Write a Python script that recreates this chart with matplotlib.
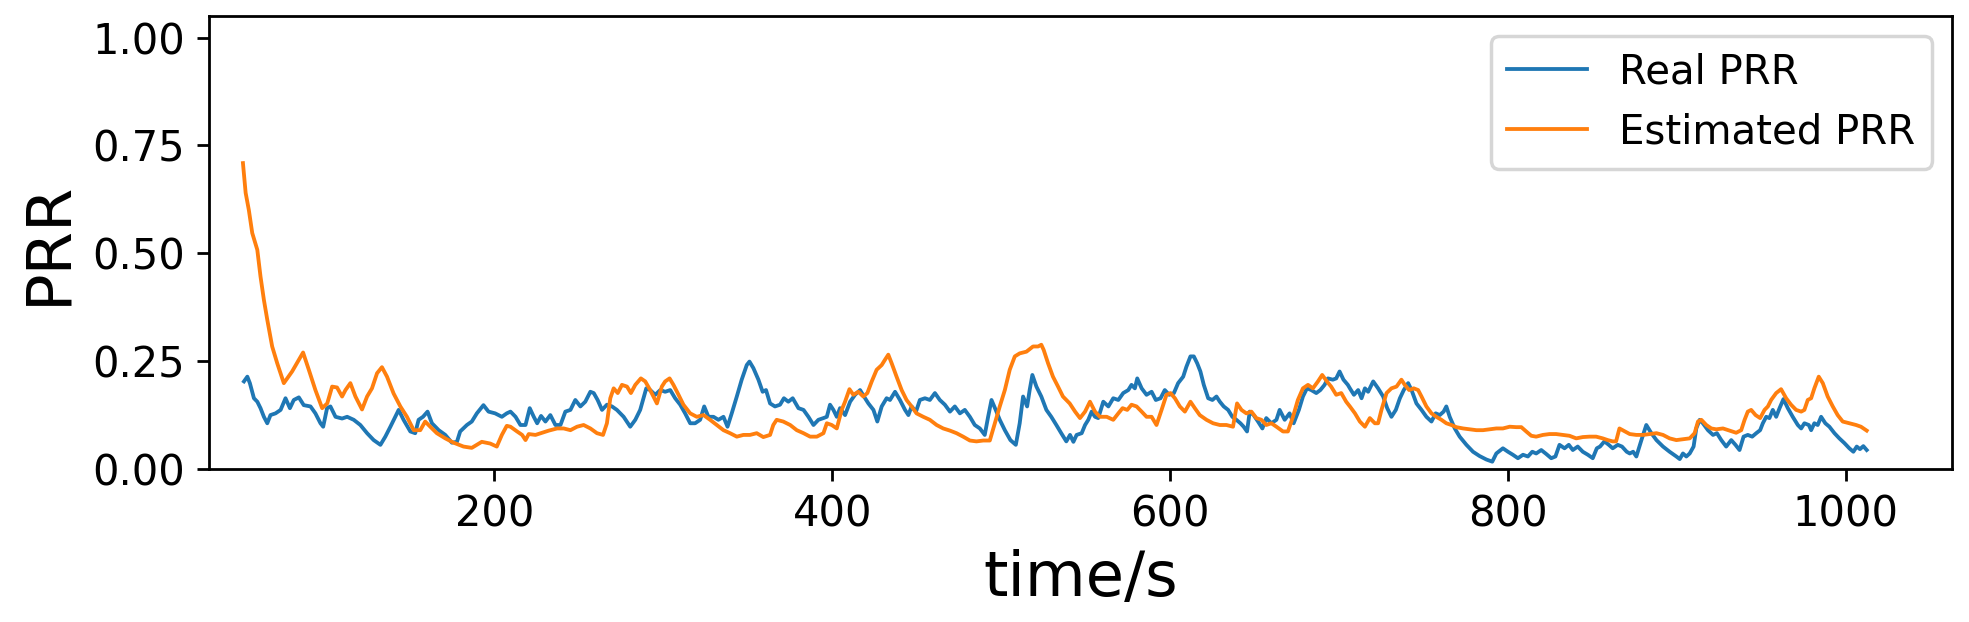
import matplotlib
matplotlib.use("Agg")
import matplotlib.pyplot as plt

# ---- data ----
time_real = [51.7, 53.7, 55.2, 57.6, 59.6, 61.5, 63.5, 65.5, 67.4, 70.4, 73.4, 76.3, 78.9, 81.2, 84.2, 87.1, 91.1, 94.0, 97.0, 98.6,
             100.9, 102.9, 105.9, 109.8, 112.8, 116.7, 120.6, 124.6, 128.5, 132.5, 135.4, 138.4, 141.3, 143.3, 146.2, 150.2, 153.1, 155.1, 157.7, 160.4,
             163.0, 167.0, 170.9, 174.8, 177.8, 179.7, 183.7, 186.6, 189.6, 193.5, 196.5, 200.4, 204.4, 207.3,
             209.5, 212.5, 215.4, 218.4, 220.9, 223.3, 225.3, 227.6, 230.2, 233.1, 236.1, 239.1, 242.0, 245.0, 247.9, 250.9, 253.8, 256.8, 258.8, 261.1,
             263.7, 266.6, 269.6, 272.5, 276.5, 280.4, 283.4, 286.3, 289.9, 292.2, 295.2, 298.2, 301.1, 304.1, 307.0, 310.0, 312.9, 315.9, 318.8, 321.8,
             324.2, 326.7, 329.7, 332.6, 335.6, 338.0, 340.5, 343.5, 346.4, 349.4, 351.0, 353.3, 356.3, 358.8, 360.8, 363.2, 366.1, 369.1, 371.4, 374.0, 376.6,
             380.0, 383.0, 385.9, 388.9, 391.8, 394.8, 396.8, 398.7, 400.7, 402.7, 404.6, 407.6, 410.6, 413.5, 416.5, 418.8, 421.4, 424.4, 426.7, 429.3,
             432.2, 434.2, 437.2, 440.1, 443.1, 445.1, 447.0, 449.6, 451.9, 454.9, 457.8, 460.8, 463.7, 466.7, 469.7, 472.6, 475.6, 478.5, 481.5, 484.4,
             487.4, 490.3, 492.3, 494.3, 496.8, 499.2, 502.2, 505.5, 508.7, 511.0, 513.0, 515.4, 516.9, 518.5, 520.9, 523.8, 526.8, 529.7, 532.7, 535.6, 538.6,
             540.8, 542.8, 544.7, 547.7, 549.7, 551.6, 553.6, 555.6, 557.5, 560.5, 563.5, 566.4, 569.4, 572.3, 575.3, 577.2, 579.2, 580.6, 583.2, 586.1,
             589.1, 591.6, 594.4, 596.9, 599.5, 602.3, 604.8, 607.8, 609.7, 612.1, 614.1, 616.1, 618.0, 620.0, 622.6, 625.1, 627.5, 629.5, 631.8, 634.4,
             636.9, 639.3, 641.7, 643.6, 645.6, 647.2, 649.5, 652.1, 654.7, 657.0, 660.0, 663.0, 664.9, 667.9, 670.8, 673.2, 676.3, 678.7, 681.1, 683.6,
             686.6, 689.0, 691.5, 693.5, 696.4, 698.4, 700.4, 702.7, 705.3,
             706.5, 708.9, 711.4, 713.4, 715.4, 717.3, 720.3, 723.2, 726.2, 728.6, 731.1, 733.7, 736.1, 738.4, 741.0, 743.0, 745.9, 748.9, 751.8, 754.8,
             757.3, 759.7, 762.0, 763.6, 765.6, 768.6, 771.5, 775.5, 779.4, 783.3, 787.3, 790.8, 793.2, 797.1, 800.1, 803.0, 806.0, 809.0, 811.9, 814.5,
             816.8, 819.8, 822.7, 825.7, 828.2, 830.6, 833.6, 836.1, 838.5, 841.4, 844.4, 847.4, 850.3, 852.7, 854.6, 857.2, 859.8, 862.1, 865.1, 867.6, 870.4,
             872.2, 874.2, 876.1, 879.1, 882.0, 885.0, 888.0, 891.9, 895.8, 899.8, 901.8, 903.7, 905.7, 907.7, 910.0, 911.6, 913.6, 915.5, 918.5, 921.5,
             923.8, 926.4, 929.3, 932.3, 934.8, 937.2, 939.6, 942.1, 944.7, 947.1, 949.4, 951.0, 953.0, 954.9, 956.9, 958.9, 960.9, 963.2, 965.8, 968.7,
             971.7, 973.7, 975.6, 978.2, 979.6, 981.5, 983.5, 985.5, 988.0, 990.4, 993.4, 996.3, 999.3, 1002.2, 1004.6, 1006.6, 1008.5, 1010.5, 1012.5]
prr_real = [0.203, 0.214, 0.199, 0.164, 0.156, 0.141, 0.121, 0.106, 0.125, 0.129, 0.137, 0.164, 0.141, 0.160, 0.166, 0.148, 0.145, 0.129, 0.106, 0.098,
            0.141, 0.145, 0.121, 0.117, 0.121, 0.114, 0.102, 0.083, 0.067, 0.056, 0.075, 0.098, 0.121, 0.137, 0.114, 0.087, 0.083, 0.114, 0.121, 0.133,
            0.106, 0.090, 0.079, 0.061, 0.063, 0.087, 0.102, 0.110, 0.129, 0.148, 0.133, 0.129, 0.121, 0.129,
            0.133, 0.121, 0.102, 0.102, 0.141, 0.121, 0.106, 0.123, 0.110, 0.125, 0.102, 0.102, 0.133, 0.137, 0.160, 0.145, 0.156, 0.179, 0.176, 0.160,
            0.137, 0.149, 0.145, 0.137, 0.121, 0.098, 0.114, 0.137, 0.187, 0.183, 0.172, 0.183, 0.179, 0.183, 0.164, 0.149, 0.129, 0.106, 0.106, 0.114,
            0.145, 0.121, 0.121, 0.114, 0.121, 0.098, 0.129, 0.168, 0.207, 0.241, 0.249, 0.234, 0.207, 0.179, 0.183, 0.152, 0.145, 0.149, 0.164, 0.156, 0.164,
            0.141, 0.137, 0.121, 0.102, 0.114, 0.118, 0.121, 0.149, 0.137, 0.121, 0.141, 0.125, 0.156, 0.172, 0.183, 0.168, 0.152, 0.137, 0.110, 0.145,
            0.164, 0.160, 0.179, 0.160, 0.137, 0.125, 0.145, 0.133, 0.160, 0.164, 0.160, 0.176, 0.160, 0.149, 0.133, 0.145, 0.129, 0.137, 0.121, 0.102,
            0.094, 0.079, 0.121, 0.160, 0.137, 0.114, 0.090, 0.067, 0.056, 0.106, 0.168, 0.145, 0.183, 0.218, 0.191, 0.168, 0.137, 0.121, 0.102, 0.083, 0.064,
            0.079, 0.063, 0.079, 0.083, 0.102, 0.114, 0.133, 0.121, 0.118, 0.156, 0.145, 0.164, 0.160, 0.176, 0.183, 0.195, 0.187, 0.210, 0.187, 0.172,
            0.179, 0.160, 0.164, 0.183, 0.172, 0.176, 0.199, 0.214, 0.237, 0.261, 0.261, 0.245, 0.226, 0.195, 0.164, 0.160, 0.168, 0.156, 0.145, 0.137,
            0.121, 0.114, 0.106, 0.098, 0.087, 0.133, 0.125, 0.110, 0.094, 0.118, 0.106, 0.114, 0.137, 0.114, 0.129, 0.106, 0.137, 0.168, 0.187, 0.183,
            0.176, 0.183, 0.195, 0.210, 0.207, 0.210, 0.226, 0.207, 0.195,
            0.187, 0.172, 0.183, 0.164, 0.187, 0.179, 0.203, 0.187, 0.168, 0.141, 0.121, 0.137, 0.164, 0.183, 0.199, 0.183, 0.152, 0.137, 0.121, 0.110,
            0.129, 0.125, 0.133, 0.145, 0.121, 0.094, 0.075, 0.056, 0.040, 0.030, 0.022, 0.017, 0.036, 0.048, 0.040, 0.033, 0.025, 0.033, 0.029, 0.040,
            0.036, 0.044, 0.035, 0.025, 0.029, 0.056, 0.048, 0.056, 0.044, 0.052, 0.040, 0.033, 0.025, 0.048, 0.052, 0.064, 0.056, 0.048, 0.056, 0.052, 0.040,
            0.036, 0.040, 0.029, 0.067, 0.102, 0.083, 0.067, 0.052, 0.040, 0.029, 0.023, 0.036, 0.029, 0.036, 0.052, 0.094, 0.114, 0.106, 0.090, 0.079,
            0.083, 0.067, 0.052, 0.067, 0.056, 0.044, 0.075, 0.079, 0.075, 0.083, 0.090, 0.106, 0.121, 0.118, 0.137, 0.121, 0.141, 0.162, 0.141, 0.121,
            0.102, 0.094, 0.106, 0.102, 0.090, 0.106, 0.102, 0.121, 0.106, 0.098, 0.083, 0.071, 0.060, 0.048, 0.040, 0.052, 0.046, 0.053, 0.044]

time_est = [51.1, 52.7, 54.6, 56.6, 59.6, 61.5, 63.5, 65.5, 68.4, 71.4, 75.3, 80.2, 84.2, 86.7, 90.1, 94.0, 98.0, 101.0, 103.9, 106.8,
            109.8, 111.8, 114.7, 117.7, 121.6, 124.6, 127.5, 130.5, 133.4, 136.4, 140.3, 144.3, 148.2, 152.2, 156.1, 159.0, 162.0, 165.9, 170.9, 175.8,
            181.7, 186.6, 192.5, 197.5, 201.4, 204.4, 207.3,
            209.5, 213.4, 216.4, 218.4, 220.3, 224.3, 228.2, 232.2, 237.1, 241.0, 245.0, 248.9, 252.8, 256.8, 260.7, 264.3, 266.6, 268.6, 270.6, 273.0,
            275.5, 278.5, 280.8, 283.4, 286.7, 289.3, 292.2, 296.2, 299.1, 301.1, 303.7, 306.0, 309.0, 311.9, 315.9, 319.8, 323.8, 327.7, 331.6, 335.6,
            339.5, 343.5, 347.4, 351.3, 355.3, 359.2, 363.2, 365.1, 367.1, 371.0,
            375.1, 379.0, 383.0, 386.9, 390.9, 394.8, 396.8, 399.7, 402.7, 405.6, 407.6, 410.2, 412.5, 415.5, 418.4, 420.8, 423.4, 426.3, 429.3, 431.2,
            433.2, 435.2, 438.1, 441.1, 444.0, 447.0, 449.9, 453.9, 457.8, 461.8, 465.7, 469.7, 473.6, 477.5, 481.5, 485.4, 489.4, 493.3, 496.3, 499.2,
            502.2, 505.1, 508.1, 511.0, 515.0, 518.9, 521.9, 523.8, 525.2, 527.8, 530.7, 533.7, 536.6, 540.6,
            543.8, 546.7, 549.7, 552.6, 555.6, 558.5, 562.5, 566.4, 569.4, 571.9, 574.7, 577.2, 580.2, 583.2, 586.1, 589.1, 592.0, 595.0, 597.9, 600.3,
            602.9, 605.8, 608.8, 612.1, 614.7, 617.6, 621.6, 625.5, 629.5, 633.4, 637.3, 639.7, 642.3, 645.2, 648.2, 651.1, 654.1, 657.0, 660.0, 663.0,
            666.9, 669.8, 672.8, 675.7, 678.7, 681.7, 684.6, 687.6, 690.1, 692.9, 695.4, 698.4, 701.4, 704.3,
            706.5, 709.5, 712.4, 715.4, 718.3, 721.3, 723.2, 725.2, 728.2, 731.1, 734.1, 737.0, 739.0, 741.6, 744.3, 746.9, 748.9, 751.8, 754.8, 757.7,
            760.7, 763.6, 766.6, 769.5, 773.5, 777.4, 781.4, 785.3, 789.2, 793.2, 797.1, 801.1, 805.0, 808.0, 810.9, 813.9, 816.8, 820.8, 824.7, 828.6,
            832.6, 836.5, 840.5, 844.4, 848.3, 852.3, 856.2, 859.2, 862.1, 864.1, 866.1, 868.0,
            872.2, 876.1, 880.1, 884.0, 888.0, 891.9, 895.8, 899.8, 903.7, 907.7, 910.6, 912.6, 914.6, 917.5, 920.5, 923.4, 927.4, 931.3, 935.2, 938.2,
            940.2, 942.1, 944.1, 946.7, 949.4, 952.0, 954.0, 955.9, 958.9, 961.8, 964.8, 967.7, 970.7, 973.7, 975.6, 977.6, 979.6, 981.5, 984.1, 986.5,
            989.4, 992.4, 995.3, 998.3, 1002.2, 1006.2, 1009.1, 1012.5]
prr_est = [0.709, 0.640, 0.600, 0.547, 0.508, 0.446, 0.392, 0.346, 0.284, 0.245, 0.199, 0.226, 0.253, 0.270, 0.230, 0.183, 0.141, 0.152, 0.191, 0.189,
           0.168, 0.183, 0.199, 0.168, 0.138, 0.168, 0.187, 0.222, 0.236, 0.214, 0.175, 0.145, 0.121, 0.090, 0.090, 0.110, 0.098, 0.083, 0.071, 0.061,
           0.052, 0.049, 0.063, 0.059, 0.052, 0.079, 0.100,
           0.098, 0.087, 0.079, 0.067, 0.081, 0.079, 0.084, 0.089, 0.094, 0.094, 0.090, 0.098, 0.102, 0.094, 0.083, 0.079, 0.106, 0.164, 0.187, 0.176,
           0.195, 0.191, 0.176, 0.195, 0.210, 0.203, 0.183, 0.152, 0.191, 0.203, 0.210, 0.195, 0.172, 0.149, 0.129, 0.121, 0.125, 0.114, 0.102, 0.090,
           0.083, 0.075, 0.079, 0.079, 0.083, 0.074, 0.079, 0.102, 0.114, 0.110,
           0.102, 0.090, 0.083, 0.075, 0.075, 0.083, 0.106, 0.102, 0.094, 0.137, 0.156, 0.185, 0.172, 0.179, 0.168, 0.176, 0.203, 0.230, 0.241, 0.253,
           0.265, 0.245, 0.214, 0.183, 0.160, 0.145, 0.129, 0.121, 0.114, 0.102, 0.094, 0.089, 0.083, 0.075, 0.066, 0.064, 0.066, 0.066, 0.106, 0.145,
           0.183, 0.230, 0.261, 0.268, 0.272, 0.284, 0.284, 0.288, 0.276, 0.245, 0.214, 0.191, 0.168, 0.152,
           0.133, 0.118, 0.133, 0.156, 0.133, 0.121, 0.121, 0.114, 0.129, 0.141, 0.137, 0.149, 0.145, 0.133, 0.121, 0.121, 0.102, 0.137, 0.172, 0.176,
           0.164, 0.145, 0.133, 0.156, 0.141, 0.125, 0.114, 0.106, 0.102, 0.102, 0.098, 0.152, 0.137, 0.129, 0.133, 0.118, 0.114, 0.102, 0.106, 0.098,
           0.087, 0.087, 0.121, 0.160, 0.187, 0.195, 0.187, 0.203, 0.218, 0.203, 0.191, 0.172, 0.176, 0.156,
           0.145, 0.129, 0.110, 0.098, 0.118, 0.106, 0.106, 0.137, 0.176, 0.187, 0.191, 0.207, 0.195, 0.183, 0.187, 0.183, 0.168, 0.145, 0.129, 0.121,
           0.114, 0.106, 0.102, 0.097, 0.094, 0.092, 0.090, 0.090, 0.092, 0.094, 0.094, 0.098, 0.097, 0.097, 0.087, 0.077, 0.075, 0.079, 0.081, 0.081,
           0.079, 0.077, 0.071, 0.074, 0.075, 0.075, 0.071, 0.067, 0.064, 0.064, 0.094, 0.090,
           0.081, 0.079, 0.079, 0.081, 0.083, 0.079, 0.071, 0.067, 0.069, 0.071, 0.083, 0.110, 0.114, 0.102, 0.094, 0.092, 0.094, 0.089, 0.084, 0.090,
           0.114, 0.133, 0.137, 0.125, 0.118, 0.137, 0.145, 0.160, 0.176, 0.185, 0.164, 0.149, 0.137, 0.133, 0.137, 0.160, 0.164, 0.187, 0.214, 0.199,
           0.168, 0.145, 0.125, 0.110, 0.106, 0.102, 0.098, 0.089]

series_labels = ["Real PRR", "Estimated PRR"]
x_ticks = [200, 400, 600, 800, 1000]
y_ticks = [0.00, 0.25, 0.50, 0.75, 1.00]

# ---- figure ----
DPI = 250
fig = plt.figure(figsize=(1969 / DPI, 622 / DPI), dpi=DPI)
ax = fig.add_axes([209 / 1969, 1 - 469 / 622, (1952 - 209) / 1969, (469 - 16) / 622])

ax.plot(time_real, prr_real, color="#1f77b4", lw=1.1, label=series_labels[0])
ax.plot(time_est, prr_est, color="#ff7f0e", lw=1.1, label=series_labels[1])

ax.set_xlim(31, 1063)
ax.set_ylim(0, 1.05)
ax.set_xticks(x_ticks)
ax.set_yticks(y_ticks)
ax.set_yticklabels([f"{v:.2f}" for v in y_ticks])
ax.tick_params(labelsize=12)
ax.set_xlabel("time/s", fontsize=18)
ax.set_ylabel("PRR", fontsize=18)
ax.legend(loc="upper right", fontsize=11.6)

fig.savefig("out.png", dpi=DPI)
